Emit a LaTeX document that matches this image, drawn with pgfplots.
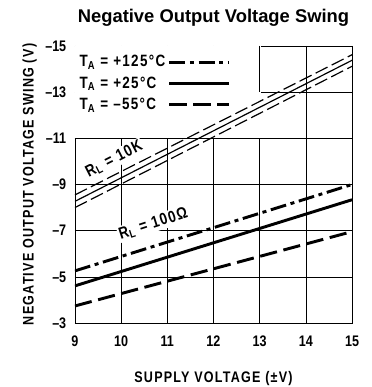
\documentclass[border=0pt]{standalone}
\usepackage{fontspec}
\setmainfont{Liberation Sans}
\newfontfamily\cond{Liberation Sans}[FakeStretch=0.82]
\newfontfamily\condsp{Liberation Sans}[FakeStretch=0.82, LetterSpace=8]
\usepackage{pgfplots}
\pgfplotsset{compat=1.18}

\tikzset{
  hot/.style={dash pattern=on 12pt off 3.5pt on 3pt off 3.5pt},
  cold/.style={dash pattern=on 13pt off 5pt},
}
\newcommand{\lab}{\cond\bfseries\fontsize{11.5}{13}\selectfont}
\newcommand{\labsp}{\condsp\bfseries\fontsize{11.5}{13}\selectfont}
\newcommand{\labbig}{\condsp\bfseries\fontsize{12.3}{14}\selectfont}

\begin{document}
\begin{tikzpicture}
  \begin{axis}[
      scale only axis, width=208pt, height=208pt,
      xmin=9, xmax=15, ymin=-15, ymax=-3, y dir=reverse,
      xtick={9,...,15}, ytick={-15,-13,...,-3},
      yticklabels={\textendash15,\textendash13,\textendash11,\textendash9,\textendash7,\textendash5,\textendash3},
      major tick length=0pt,
      grid=major, grid style={black, line width=0.5pt},
      axis line style={line width=0.6pt},
      tick label style={font=\lab},
      /pgf/number format/assume math mode=true,
      xticklabel style={yshift=-6pt},
      yticklabel style={xshift=-3pt},
      title={Negative Output Voltage Swing},
      title style={font=\bfseries\fontsize{13.8}{16}\selectfont, inner sep=0pt, at={(axis description cs:0.5,1)}, anchor=center, yshift=15pt},
      xlabel={SUPPLY VOLTAGE (±V)},
      xlabel style={font=\labsp, inner sep=0pt, at={(axis description cs:0.5,0)}, anchor=center, yshift=-42pt},
      ylabel={NEGATIVE OUTPUT VOLTAGE SWING (V)},
      ylabel style={font=\labsp, inner sep=0pt, at={(axis description cs:-0.163,0.5)}, anchor=center},
      legend style={at={(axis cs:9.04,-14.72)}, anchor=north west, draw=none, fill=none,
        font=\labbig, row sep=2pt, inner sep=0pt},
      legend plot pos=right, legend cell align=left,
      legend image code/.code={\draw[#1] (2pt,0pt) -- (47pt,0pt);},
    ]
    % legend area hides the grid
    \fill[white] (axis cs:9,-15) rectangle (axis cs:13.03,-11);
    \draw[line width=0.5pt] (axis cs:9,-11) -- (axis cs:15,-11);
    \draw[line width=0.5pt] (axis cs:13,-15) -- (axis cs:13,-13);

    % R_L = 100 ohm
    \addplot[black, line width=2.2pt, hot] coordinates {(9,-5.26) (15,-9.0)};
    \addlegendentry{T\textsubscript{A} = +125°C}
    \addplot[black, line width=2.2pt] coordinates {(9,-4.61) (15,-8.34)};
    \addlegendentry{T\textsubscript{A} = +25°C}
    \addplot[black, line width=2.2pt, cold] coordinates {(9,-3.74) (15,-6.96)};
    \addlegendentry{T\textsubscript{A} = \textendash55°C}

    % R_L = 10K
    \addplot[black, line width=0.9pt, dash pattern=on 10pt off 3.5pt, forget plot] coordinates {(9,-8.55) (15,-14.62)};
    \addplot[black, line width=0.9pt, forget plot] coordinates {(9,-8.27) (15,-14.38)};
    \addplot[black, line width=0.9pt, dash pattern=on 10pt off 3.5pt, forget plot] coordinates {(9,-8.0) (15,-14.12)};

    \node[font=\labbig, fill=white, inner sep=1pt, rotate=27] at (axis cs:9.85,-10.1) {R\textsubscript{L} = 10K};
    \node[font=\labbig, fill=white, inner sep=1pt, rotate=18] at (axis cs:10.7,-7.3) {R\textsubscript{L} = 100Ω};
  \end{axis}
  \path (-56.25pt,-48pt) rectangle (222.25pt,242.5pt);
\end{tikzpicture}
\end{document}
